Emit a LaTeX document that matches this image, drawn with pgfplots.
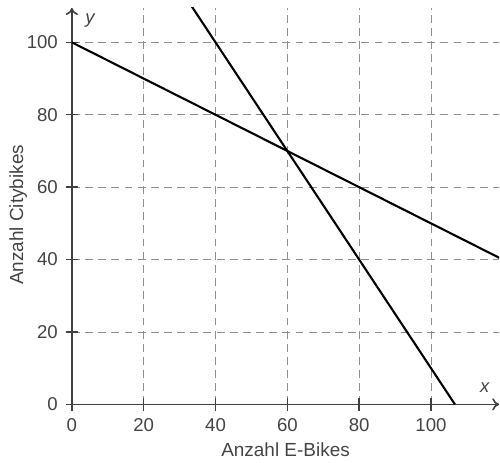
\documentclass[border=0pt]{standalone}
\usepackage{pgfplots}
\pgfplotsset{compat=1.18}
\usetikzlibrary{arrows.meta}
\usepackage{fontspec}
\setmainfont{Liberation Sans}
\definecolor{txt}{HTML}{444444}
\definecolor{gridc}{HTML}{8E8E8E}
\begin{document}
\begin{tikzpicture}
\path (-1.44cm,-1.1cm) rectangle (8.56cm,8.1cm);
\begin{axis}[
  scale only axis,
  width=8.56cm, height=7.94cm,
  xmin=0, xmax=119, ymin=0, ymax=109.5,
  axis lines=left,
  axis line style={draw=black!75, line width=0.9pt, -{To[length=4pt,width=7pt]}},
  xtick={0,20,...,100}, ytick={0,20,...,100},
  tick align=center, major tick length=7pt,
  tick style={black!75, line width=0.8pt},
  grid=major,
  major grid style={gridc, dashed, dash pattern=on 4.5pt off 3pt, line width=0.5pt},
  /pgf/number format/assume math mode=true,
  ticklabel style={font=\fontsize{10.6}{12}\selectfont, text=txt},
  xticklabel style={yshift=-1pt},
  yticklabel style={xshift=-1pt},
  label style={font=\fontsize{10.8}{12}\selectfont, text=txt},
  xlabel={Anzahl E-Bikes},
  ylabel={Anzahl Citybikes},
  xlabel style={at={(axis description cs:0.5,0)}, anchor=north, yshift=-0.64cm},
  ylabel style={yshift=-7pt, xshift=-5pt},
  clip=true,
]
\addplot[black, line width=1.2pt] coordinates {(0,100) (120,40)};
\addplot[black, line width=1.2pt] coordinates {(33.333,110) (106.667,0)};
\node[text=txt, font=\fontsize{10.5}{12}\selectfont\itshape, anchor=south west] at (axis cs:2,102.5) {y};
\node[text=txt, font=\fontsize{10.5}{12}\selectfont\itshape, anchor=south] at (axis cs:115,1.5) {x};
\end{axis}
\end{tikzpicture}
\end{document}
